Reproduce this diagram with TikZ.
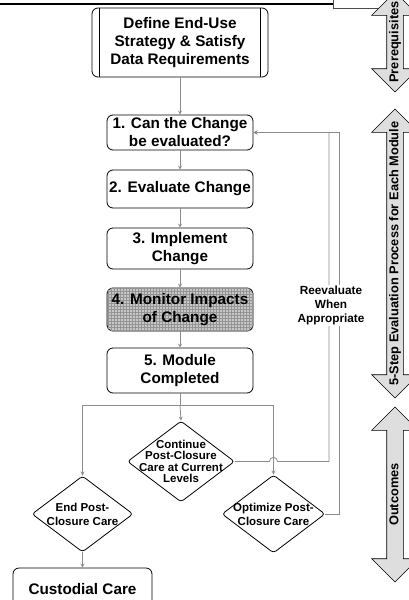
\documentclass[tikz,border=0pt]{standalone}
\usepackage{fontspec}
\setmainfont{Liberation Sans}
\usetikzlibrary{arrows}
\usetikzlibrary{shapes.geometric, shapes.arrows, positioning, calc, patterns}

\tikzset{
  stepbox/.style={draw=black, line width=0.8pt, rounded corners=6pt, minimum width=146pt,
    inner sep=0pt, align=center, font=\bfseries\fontsize{15.3}{18}\selectfont},
  choice/.style={diamond, draw=black, line width=0.8pt, rounded corners=3pt, inner sep=0pt},
  choicetext/.style={align=center, inner sep=0pt, font=\bfseries\fontsize{11.5}{14}\selectfont},
  link/.style={draw=black!45, line width=0.8pt, -stealth},
  phase/.style={double arrow, draw=black, line width=0.6pt, fill=black!13, rotate=90,
    double arrow head extend=15pt, minimum width=46pt, inner xsep=0pt, inner ysep=2.25pt,
    text height=9pt, text depth=2.5pt, font=\bfseries\fontsize{12.8}{14}\selectfont}
}

\begin{document}
\begin{tikzpicture}[x=1pt,y=-1pt]
      \useasboundingbox (0,0) rectangle (409,600);
      % page header left over from the report
      \draw[line width=2pt] (0,4) -- (333,4);
      \draw[black!70, line width=0.8pt] (333,-5) rectangle (415,8);

      % prerequisite box with double side bars
      \node[stepbox, minimum width=176pt, minimum height=69pt] (define) at (180,42.5)
        {Define End-Use\\Strategy \& Satisfy\\Data Requirements};
      \draw[line width=0.8pt] ([xshift=8pt]define.north west) -- ([xshift=8pt]define.south west);
      \draw[line width=0.8pt] ([xshift=-8pt]define.north east) -- ([xshift=-8pt]define.south east);

      % the five evaluation steps
      \node[stepbox, minimum height=35pt] (b1) at (180,132.5) {1. Can the Change\\be evaluated?};
      \node[stepbox, minimum height=38pt] (b2) at (180,189) {2. Evaluate Change};
      \node[stepbox, minimum height=41pt] (b3) at (180,248.5) {3. Implement\\Change};
      \node[stepbox, minimum height=43pt, fill=black!22,
        postaction={pattern=grid, pattern color=black!42}] (b4) at (180,309.5) {4. Monitor Impacts\\of Change};
      \node[stepbox, minimum height=45pt] (b5) at (180,370.5) {5. Module\\Completed};

      % outcomes
      \node[choice, minimum width=107pt, minimum height=81pt] (cont) at (181,461.5) {};
      \node[choicetext, font=\bfseries\fontsize{11.5}{11.5}\selectfont] (contText) at (cont)
        {Continue\\Post-Closure\\Care at Current\\Levels};
      \node[choice, minimum width=101pt, minimum height=76pt] (stopcare) at (82.5,514) {};
      \node[choicetext] (stopText) at (stopcare) {End Post-\\Closure Care};
      \node[choice, minimum width=103pt, minimum height=78pt] (optc) at (273.5,514) {};
      \node[choicetext] (optText) at (optc) {Optimize Post-\\Closure Care};
      \node[stepbox, minimum width=139pt, minimum height=42pt] (cust) at (82.5,589) {Custodial Care};

      % connectors
      \draw[link] (define.south) -- (b1.north);
      \foreach \a/\b in {b1/b2, b2/b3, b3/b4, b4/b5}
        \draw[link] (\a.south) -- (\b.north);
      \draw[link, -] (b5.south) -- (180,405) coordinate (split);
      \draw[link] (split) -- (cont.north);
      \draw[link] (split) -| (stopcare.north);
      \draw[link] (split) -| (optc.north);
      \draw[link] (stopcare.south) -- (cust.north);

      % loops back to step 1, with a hop over the line to optimize
      \draw[link] (cont.east) -- (269.5,461.5) .. controls (269.5,456) and (277.5,456) .. (277.5,461.5)
        -- (329,461.5) |- (b1.east);
      \draw[link] (optc.east) -- (339,514) |- (b1.east);
      \node[choicetext, fill=white, inner sep=1pt, font=\bfseries\fontsize{11.8}{14}\selectfont] (again)
        at (331,305) {Reevaluate\\When\\Appropriate};

      % phase arrows on the right
      \node[phase, minimum height=100pt] (prereq) at (395,42) {Prerequisites};
      \node[phase, minimum height=289pt] (steps) at (395,253.5) {5-Step Evaluation Process for Each Module};
      \node[phase, minimum height=175pt] (outc) at (395,494.5) {Outcomes};
\end{tikzpicture}
\end{document}
